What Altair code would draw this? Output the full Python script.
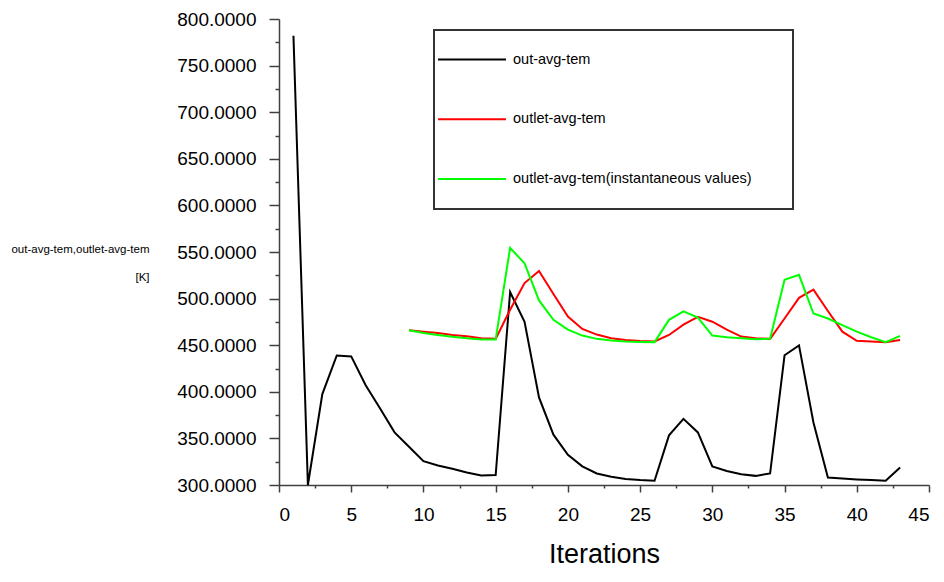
import altair as alt
import pandas as pd

iters_black = list(range(1, 44))
out_avg_tem = [782, 300, 397.5, 439, 438, 407, 382, 356.5, 341, 325.5,
               321, 317.5, 313.5, 310.2, 310.6, 507, 475, 394, 354, 332.4,
               320, 312.4, 308.8, 306.5, 305.3, 304.6, 353.3, 371, 356.4, 320,
               315, 311.6, 309.8, 312.4, 439.2, 449.8, 367, 308, 307, 306,
               305.3, 304.6, 318.7]

iters_outlet = list(range(9, 44))
outlet_avg_tem = [466, 464.5, 463, 461, 459.5, 457.5, 456.8, 488, 516.7, 529.7,
                  505, 480.8, 467.4, 461.4, 457.5, 455.6, 454.5, 454, 461, 472,
                  480.4, 475.2, 466.7, 459.3, 457.5, 456.8, 478.6, 500.8, 509.6, 486.7,
                  464.5, 454.7, 454, 453.3, 455.7]
outlet_inst = [466, 463, 461, 459, 457.5, 456, 456, 554.4, 537.8, 498,
               477.2, 466.7, 460.3, 456.8, 455, 454, 453.5, 453.3, 477.2, 486.4,
               479.7, 460.3, 458.5, 457.5, 456.5, 456.8, 520.2, 525.5, 484, 478.6,
               471.6, 464.5, 458.5, 453.3, 460]

series_names = ["out-avg-tem", "outlet-avg-tem", "outlet-avg-tem(instantaneous values)"]
series_colors = ["#000000", "#ff0000", "#00ff00"]

x_ticks = [i * 2.5 for i in range(19)]
y_ticks = [300 + i * 25 for i in range(21)]

rows = []
for x, v in zip(iters_black, out_avg_tem):
    rows.append({"iter": x, "value": v, "series": series_names[0]})
for x, v in zip(iters_outlet, outlet_avg_tem):
    rows.append({"iter": x, "value": v, "series": series_names[1]})
for x, v in zip(iters_outlet, outlet_inst):
    rows.append({"iter": x, "value": v, "series": series_names[2]})
df = pd.DataFrame(rows)

FONT = "Liberation Sans"
AX = "#404040"

lines = alt.Chart(df).mark_line(strokeWidth=2).encode(
    x=alt.X("iter:Q",
            scale=alt.Scale(domain=[0, 45], nice=False, zero=False),
            axis=alt.Axis(
                title="Iterations",
                values=x_ticks,
                labelExpr="datum.value % 5 === 0 ? format(datum.value, 'd') : ''",
                grid=False,
                domainColor=AX, domainWidth=1.5,
                tickColor=AX, tickWidth=1.5,
                tickSize={"condition": {"test": "datum.value % 5 === 0", "value": 7}, "value": 3},
                labelPadding=13,
                labelFont=FONT, labelFontSize=19, labelColor="#000000",
                titleFont=FONT, titleFontSize=27, titleFontWeight="normal",
                titleColor="#000000", titleBaseline="alphabetic", titleY=77,
            )),
    y=alt.Y("value:Q",
            scale=alt.Scale(domain=[300, 800], nice=False, zero=False),
            axis=alt.Axis(
                title=["out-avg-tem,outlet-avg-tem", "[K]"],
                values=y_ticks,
                labelExpr="datum.value % 50 === 0 ? format(datum.value, '.4f') : ''",
                grid=False,
                domainColor=AX, domainWidth=1.5,
                tickColor=AX, tickWidth=1.5,
                tickSize={"condition": {"test": "datum.value % 50 === 0", "value": 10}, "value": 4},
                labelPadding=13,
                labelFont=FONT, labelFontSize=19, labelColor="#000000",
                titleFont=FONT, titleFontSize=11.5, titleFontWeight="normal",
                titleColor="#000000", titleAngle=0, titleAlign="right",
                titleBaseline="alphabetic", titleX=-130, titleY=233,
                titleLineHeight=28,
            )),
    color=alt.Color("series:N",
                    scale=alt.Scale(domain=series_names, range=series_colors),
                    legend=alt.Legend(
                        title=None, orient="none", legendX=155, legendY=11,
                        padding=4,
                        symbolType="M-1.04,0L1.735,0", symbolSize=2401,
                        symbolStrokeWidth=2, labelOffset=24, rowPadding=27.7,
                        labelFont=FONT, labelFontSize=14.5, labelColor="#000000",
                        labelLimit=400,
                    )),
)

# legend frame (decoration)
frame = alt.Chart(pd.DataFrame({"k": [0]})).mark_rect(
    filled=False, stroke="#333333", strokeWidth=2
).encode(
    x=alt.value(155), x2=alt.value(514),
    y=alt.value(11), y2=alt.value(190),
)

chart = alt.layer(lines, frame).properties(
    width=650, height=466,
    autosize=alt.AutoSizeParams(type="none"),
    padding={"left": 271, "top": 11, "right": 5, "bottom": 85},
).configure_view(stroke=None)

chart.save("out.html", embed_options={"renderer": "svg", "actions": False})
